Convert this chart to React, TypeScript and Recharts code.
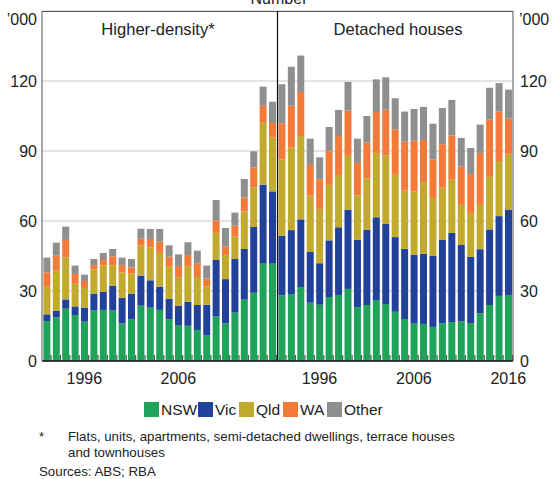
import React from 'react';
import { BarChart, Bar, XAxis, YAxis, CartesianGrid } from 'recharts';

const years = [
  '1992', '1993', '1994', '1995', '1996', '1997', '1998', '1999', '2000',
  '2001', '2002', '2003', '2004', '2005', '2006', '2007', '2008', '2009',
  '2010', '2011', '2012', '2013', '2014', '2015', '2016'
];

// Higher-density, '000 dwellings
const hdNSW = [17.1, 18.7, 22.4, 19.7, 16.9, 21.7, 21.9, 21.6, 16.1, 17.9, 23.7, 22.9, 21.9, 17.9, 15.4, 15.1, 13.3, 10.9, 19.1, 16.1, 20.7, 26.3, 29.3, 41.7, 41.7];
const hdVic = [2.9, 2.9, 4.0, 3.7, 6.0, 7.2, 7.8, 10.7, 11.0, 11.0, 12.9, 11.7, 10.0, 8.7, 8.2, 10.3, 10.7, 13.2, 24.2, 19.0, 23.0, 21.7, 28.1, 33.9, 31.0];
const hdQld = [12.1, 17.1, 18.0, 9.7, 8.4, 10.4, 11.2, 8.8, 10.8, 8.5, 12.8, 14.0, 14.4, 13.8, 12.1, 15.0, 12.0, 7.9, 11.6, 10.3, 9.6, 16.0, 17.0, 26.5, 23.0];
const hdWA = [5.9, 6.4, 7.5, 4.2, 3.0, 1.8, 2.4, 3.8, 3.2, 2.7, 3.0, 3.7, 4.8, 4.3, 5.0, 5.0, 5.7, 3.3, 5.4, 3.6, 4.7, 6.1, 8.5, 7.3, 6.3];
const hdOther = [6.3, 5.6, 5.7, 3.6, 2.7, 2.6, 3.0, 3.1, 3.2, 3.6, 4.3, 4.3, 5.5, 4.9, 5.0, 5.5, 5.6, 5.6, 8.7, 8.0, 5.6, 7.9, 7.0, 8.2, 9.1];

// Detached houses, '000 dwellings
const dhNSW = [28.1, 28.7, 31.7, 25.0, 24.1, 27.4, 28.3, 30.9, 23.1, 24.0, 26.1, 24.4, 21.1, 18.0, 16.0, 15.9, 14.6, 16.1, 16.7, 17.0, 16.3, 20.4, 24.0, 27.9, 28.3];
const dhVic = [25.6, 27.4, 29.0, 21.7, 17.8, 24.3, 29.0, 34.0, 28.8, 32.3, 35.5, 34.3, 32.0, 30.1, 29.6, 30.0, 30.4, 35.8, 38.2, 32.7, 28.3, 27.5, 32.4, 34.2, 36.4];
const dhQld = [32.7, 35.3, 35.7, 24.2, 23.2, 23.7, 22.4, 23.0, 19.1, 22.0, 27.5, 29.4, 27.0, 24.9, 27.0, 30.8, 24.9, 22.4, 22.8, 17.2, 18.8, 19.0, 22.5, 23.6, 23.9];
const dhWA = [15.5, 18.0, 18.9, 13.1, 12.8, 14.5, 16.7, 19.4, 13.9, 15.3, 17.6, 19.6, 19.2, 21.0, 21.8, 18.0, 16.5, 18.6, 19.0, 16.4, 16.7, 22.2, 24.5, 21.2, 15.3];
const dhOther = [16.7, 16.7, 15.6, 11.3, 9.4, 10.4, 11.2, 12.3, 10.4, 11.4, 14.0, 13.9, 13.3, 12.9, 13.6, 14.2, 15.3, 15.5, 15.2, 12.3, 11.2, 12.2, 13.7, 12.2, 12.4];

const yTicks = [0, 30, 60, 90, 120];
const leftLabels = ['1996', '2006'];
const rightLabels = ['1996', '2006', '2016'];

const series = [
  { key: 'NSW', color: '#1fa25a' },
  { key: 'Vic', color: '#21419a' },
  { key: 'Qld', color: '#c1aa2d' },
  { key: 'WA', color: '#f47a3a' },
  { key: 'Other', color: '#8f8f8f' }
];

const build = (nsw, vic, qld, wa, other) =>
  years.map((year, i) => ({ year, NSW: nsw[i], Vic: vic[i], Qld: qld[i], WA: wa[i], Other: other[i] }));

const highDensity = build(hdNSW, hdVic, hdQld, hdWA, hdOther);
const detached = build(dhNSW, dhVic, dhQld, dhWA, dhOther);

const FONT = '"Liberation Sans", Arial, sans-serif';
const tickStyle = { fontSize: 16, fill: '#222', fontFamily: FONT };

// bottom bar also draws the small inner year tick between bars
const BaseShape = (p: any) => {
  const { x, y, width, height, fill } = p;
  const gx = x + width + width * 0.09;
  return (
    <g>
      <rect x={x} y={y} width={width} height={height} fill={fill} />
      <line x1={gx} x2={gx} y1={y + height} y2={y + height - 6} stroke="#555" strokeWidth={1.2} />
    </g>
  );
};

const Panel = ({ data, labels, side }) => (
  <BarChart
    width={277}
    height={390}
    data={data}
    margin={{ top: 11, right: 0, left: 0, bottom: 0 }}
    barCategoryGap="15%"
  >
    <CartesianGrid vertical={false} stroke="#c9c9c9" />
    <XAxis
      dataKey="year"
      interval={0}
      height={29}
      tickLine={false}
      tickMargin={6}
      tick={tickStyle}
      tickFormatter={(v) => (labels.includes(v) ? v : '')}
      axisLine={{ stroke: '#111', strokeWidth: 1.5 }}
    />
    <YAxis
      orientation={side}
      width={side === 'left' ? 42 : 41}
      domain={[0, 150]}
      ticks={yTicks}
      interval={0}
      tickLine={false}
      tickSize={side === 'left' ? 3 : 5}
      tickMargin={2}
      tick={tickStyle}
      axisLine={{ stroke: '#555' }}
    />
    {series.map((s, i) => (
      <Bar
        key={s.key}
        dataKey={s.key}
        stackId="a"
        fill={s.color}
        isAnimationActive={false}
        shape={i === 0 ? BaseShape : undefined}
      />
    ))}
  </BarChart>
);

const legendX = [144, 198, 239, 283, 327];

export default function App() {
  return (
    <div style={{ position: 'absolute', left: 0, top: 0, width: 554, height: 479, background: '#fff', fontFamily: FONT }}>
      <div style={{ position: 'absolute', left: 0, top: 0 }}>
        <Panel data={highDensity} labels={leftLabels} side="left" />
      </div>
      <div style={{ position: 'absolute', left: 277, top: 0 }}>
        <Panel data={detached} labels={rightLabels} side="right" />
      </div>
      <svg width={554} height={479} style={{ position: 'absolute', left: 0, top: 0, pointerEvents: 'none' }}>
        <line x1={42} x2={513} y1={11.5} y2={11.5} stroke="#555" />
        <line x1={277.5} x2={277.5} y1={11} y2={361} stroke="#111" strokeWidth={1.2} />
        <text x={279} y={4} textAnchor="middle" fontSize={16} fill="#222">Number</text>
        <text x={37} y={25} textAnchor="end" fontSize={16} fill="#222">’000</text>
        <text x={519} y={25} fontSize={16} fill="#222">’000</text>
        <text x={158} y={35} textAnchor="middle" fontSize={16.6} fill="#222">Higher-density*</text>
        <text x={398} y={35} textAnchor="middle" fontSize={16.6} fill="#222">Detached houses</text>
        {series.map((s, i) => (
          <g key={s.key}>
            <rect x={legendX[i]} y={402} width={15} height={15} fill={s.color} />
            <text x={legendX[i] + 17} y={415} fontSize={15.5} fill="#222">{s.key}</text>
          </g>
        ))}
        <text x={39} y={441} fontSize={13.3} fill="#222">*</text>
        <text x={68} y={441} fontSize={13.3} fill="#222">Flats, units, apartments, semi-detached dwellings, terrace houses</text>
        <text x={68} y={457} fontSize={13.3} fill="#222">and townhouses</text>
        <text x={39} y={476} fontSize={13.3} fill="#222">Sources: ABS; RBA</text>
      </svg>
    </div>
  );
}
